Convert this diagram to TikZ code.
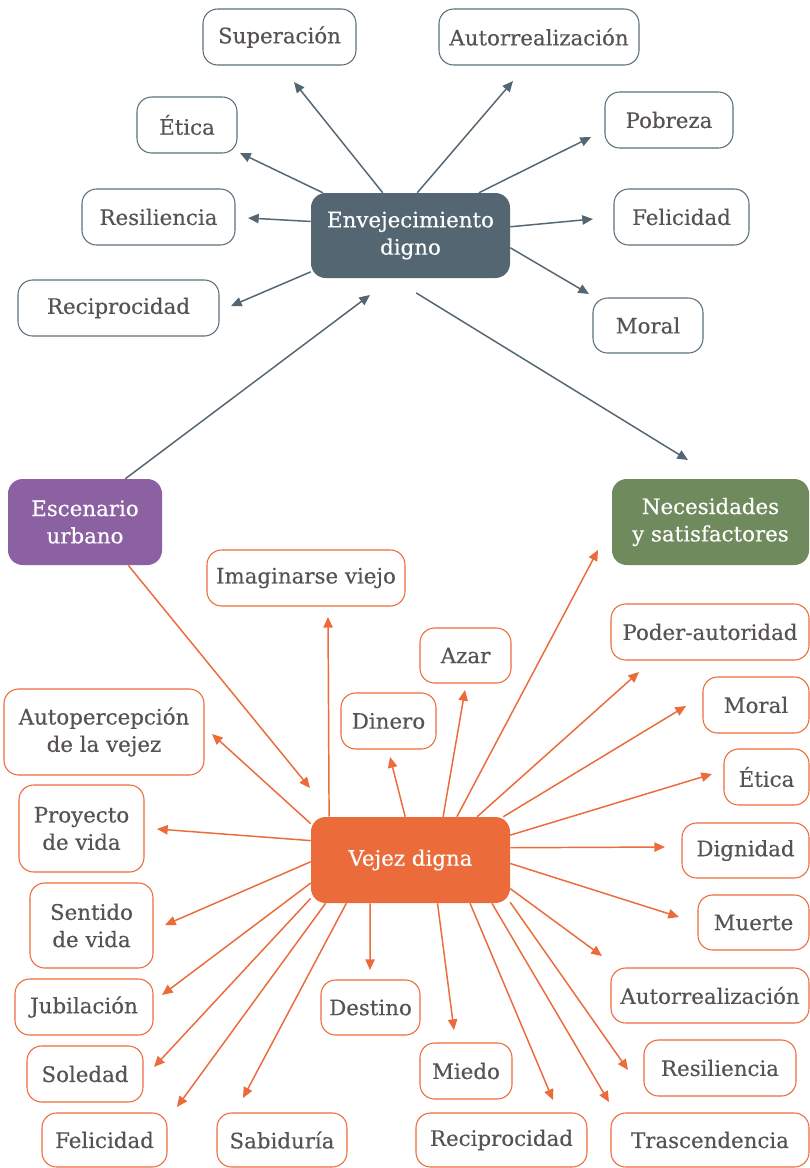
\documentclass[tikz,border=0pt]{standalone}
\usepackage{fontspec}
\setmainfont[FakeBold=0.3]{DejaVu Serif}
\usetikzlibrary{arrows.meta,calc}
\definecolor{slate}{HTML}{536671}
\definecolor{slateline}{HTML}{5C707C}
\definecolor{plum}{HTML}{8C61A2}
\definecolor{sage}{HTML}{6F8B5D}
\definecolor{tang}{HTML}{EC6B3B}
\definecolor{ink}{HTML}{575253}
\begin{document}
\begin{tikzpicture}[x=0.75pt,y=-0.75pt,
  txt/.style={font=\fontsize{16}{20.5}\selectfont, align=center, inner sep=0pt},
  sz/.style 2 args={minimum width=#1*0.75pt, minimum height=#2*0.75pt},
  hub/.style={txt, rounded corners=11pt, text=white},
  leafS/.style={txt, draw=slateline, line width=0.8pt, fill=white, rounded corners=11pt, text=ink},
  leafO/.style={txt, draw=tang, line width=0.8pt, fill=white, rounded corners=11pt, text=ink},
  arrS/.style={draw=slate, line width=1.1pt, -{Triangle[length=8pt,width=7pt]}},
  arrO/.style={draw=tang, line width=1.1pt, -{Triangle[length=8pt,width=7pt]}}]
\fill[white] (0,0) rectangle (810,1168);
\useasboundingbox (0,0) rectangle (810,1168);

% central nodes
\node[hub, fill=slate, sz={199}{85}] (env) at (410.5,235.5) {Envejecimiento\\digno};
\node[hub, fill=plum, sz={154}{86}] (esc) at (85,522) {Escenario\\urbano};
\node[hub, fill=sage, sz={197}{86}] (nec) at (710.5,522) {Necesidades\\y satisfactores};
\node[hub, fill=tang, sz={199}{86}] (vd) at (410.5,860) {Vejez digna};

% leaves around "Envejecimiento digno"
\node[leafS, sz={153}{56}] (sup)  at (279.5,37)  {Superación};
\node[leafS, sz={200}{56}] (aut1) at (539,37)    {Autorrealización};
\node[leafS, sz={100}{56}] (eti1) at (187,125)   {Ética};
\node[leafS, sz={128}{56}] (pob)  at (669,120)   {Pobreza};
\node[leafS, sz={153}{56}] (res1) at (158.5,217) {Resiliencia};
\node[leafS, sz={135}{56}] (fel1) at (681.5,217) {Felicidad};
\node[leafS, sz={201}{56}] (rec1) at (118.5,308) {Reciprocidad};
\node[leafS, sz={110}{55}] (mor1) at (648,325.5) {Moral};

% leaves around "Vejez digna"
\node[leafO, sz={198}{56}] (ima)  at (306,578)     {Imaginarse viejo};
\node[leafO, sz={200}{86}] (autp) at (104,732)     {Autopercepción\\de la vejez};
\node[leafO, sz={95}{56}]  (din)  at (388.5,721)   {Dinero};
\node[leafO, sz={91}{55}]  (aza)  at (465.5,655.5) {Azar};
\node[leafO, sz={198}{56}] (pod)  at (710,632)     {Poder-autoridad};
\node[leafO, sz={106}{56}] (mor2) at (756,705)     {Moral};
\node[leafO, sz={85}{56}]  (eti2) at (766.5,777)   {Ética};
\node[leafO, sz={125}{87}] (pro)  at (81.5,828.5)  {Proyecto\\de vida};
\node[leafO, sz={123}{85}] (sen)  at (91.5,925.5)  {Sentido\\de vida};
\node[leafO, sz={138}{56}] (jub)  at (84,1007)     {Jubilación};
\node[leafO, sz={116}{56}] (sol)  at (85,1074)     {Soledad};
\node[leafO, sz={125}{54}] (fel2) at (104.5,1140)  {Felicidad};
\node[leafO, sz={130}{54}] (sab)  at (282,1140)    {Sabiduría};
\node[leafO, sz={99}{55}]  (des)  at (370.5,1007.5){Destino};
\node[leafO, sz={127}{55}] (dig)  at (745.5,850.5) {Dignidad};
\node[leafO, sz={111}{55}] (mue)  at (753.5,922.5) {Muerte};
\node[leafO, sz={198}{55}] (aut2) at (710,995.5)   {Autorrealización};
\node[leafO, sz={152}{56}] (res2) at (720,1068)    {Resiliencia};
\node[leafO, sz={92}{56}]  (mie)  at (466,1071)    {Miedo};
\node[leafO, sz={171}{54}] (rec2) at (501.5,1140)  {Reciprocidad};
\node[leafO, sz={198}{54}] (tra)  at (710,1140)    {Trascendencia};

% arrow tips (connectors stop short of their targets)
\coordinate (sup-t)  at (294,82);
\coordinate (eti1-t) at (240,153);
\coordinate (res1-t) at (248,218);
\coordinate (rec1-t) at (231,306);
\coordinate (aut1-t) at (513,81);
\coordinate (pob-t)  at (591,137);
\coordinate (fel1-t) at (593,219);
\coordinate (mor1-t) at (589,294);
\coordinate (nec-t)  at (688,460);
\coordinate (env-t)  at (370,295);
\coordinate (vd-t)   at (310,788);
\coordinate (ima-t)  at (328,617);
\coordinate (autp-t) at (212,734);
\coordinate (pro-t)  at (157,829);
\coordinate (sen-t)  at (165,925);
\coordinate (jub-t)  at (162,995);
\coordinate (sol-t)  at (154,1067);
\coordinate (fel2-t) at (177,1107);
\coordinate (sab-t)  at (243,1098);
\coordinate (des-t)  at (370,970);
\coordinate (mie-t)  at (454,1030);
\coordinate (rec2-t) at (553,1100);
\coordinate (tra-t)  at (609,1102);
\coordinate (res2-t) at (628,1070);
\coordinate (aut2-t) at (602,956);
\coordinate (mue-t)  at (679,917);
\coordinate (dig-t)  at (665,847);
\coordinate (eti2-t) at (712,774);
\coordinate (mor2-t) at (686,706);
\coordinate (pod-t)  at (639,672);
\coordinate (nec2-t) at (598,550);
\coordinate (aza-t)  at (465,690);
\coordinate (din-t)  at (390,757);

% connectors from "Envejecimiento digno"
\draw[arrS] (env.123) -- (sup-t);
\draw[arrS] (env.154) -- (eti1-t);
\draw[arrS] (env.172) -- (res1-t);
\draw[arrS] (env.200) -- (rec1-t);
\draw[arrS] (env.81)  -- (aut1-t);
\draw[arrS] (env.32)  -- (pob-t);
\draw[arrS] (env.5)   -- (fel1-t);
\draw[arrS] (env.-7)  -- (mor1-t);
\draw[arrS, shorten <=21pt] (env.247) -- (nec-t);
\draw[arrS] (esc.47)  -- (env-t);

% connectors around "Vejez digna"
\draw[arrO] (esc.-45) -- (vd-t);
\draw[arrO] (vd.152) -- (ima-t);
\draw[arrO] (vd.160) -- (autp-t);
\draw[arrO] (vd.169) -- (pro-t);
\draw[arrO] (vd.181) -- (sen-t);
\draw[arrO] (vd.193) -- (jub-t);
\draw[arrO] (vd.201) -- (sol-t);
\draw[arrO] (vd.207) -- (fel2-t);
\draw[arrO] (vd.214) -- (sab-t);
\draw[arrO] (vd.227) -- (des-t);
\draw[arrO] (vd.302) -- (mie-t);
\draw[arrO] (vd.-36) -- (rec2-t);
\draw[arrO] (vd.-28) -- (tra-t);
\draw[arrO] (vd.-23) -- (res2-t);
\draw[arrO] (vd.-16) -- (aut2-t);
\draw[arrO] (vd.-2)  -- (mue-t);
\draw[arrO] (vd.7)   -- (dig-t);
\draw[arrO] (vd.14)  -- (eti2-t);
\draw[arrO] (vd.25)  -- (mor2-t);
\draw[arrO] (vd.33)  -- (pod-t);
\draw[arrO] (vd.43)  -- (nec2-t);
\draw[arrO] (vd.53)  -- (aza-t);
\draw[arrO] (vd.97)  -- (din-t);
\end{tikzpicture}
\end{document}
